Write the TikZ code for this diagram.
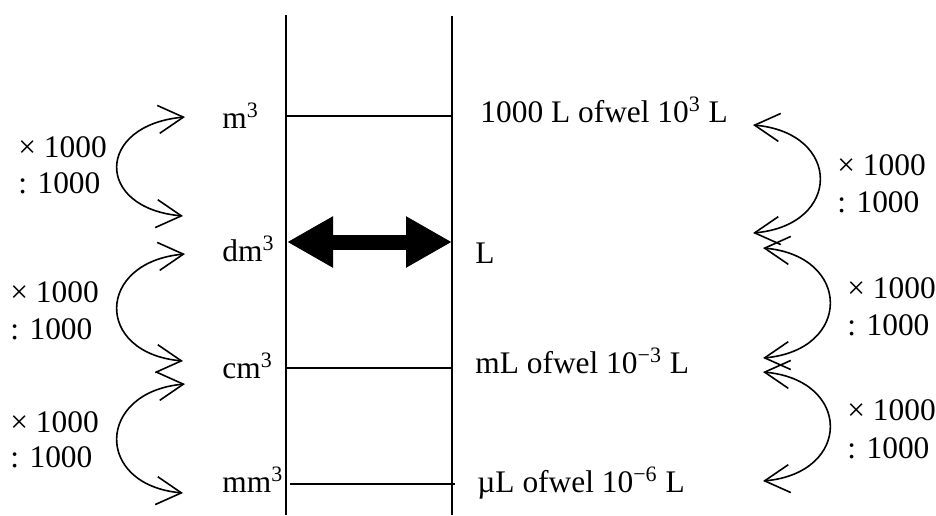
\documentclass[tikz,border=0pt]{standalone}
\usepackage{fontspec}
\setmainfont{Liberation Serif}
\usetikzlibrary{arrows.meta}
\tikzset{
  lbl/.style={anchor=base west, inner sep=0pt, font=\fontsize{15.7}{18}\selectfont},
  wall/.style={line width=1pt},
  rung/.style={line width=0.8pt},
  conv/.style={line width=0.8pt, {Straight Barb[length=12.5pt, width=14pt]}-{Straight Barb[length=12.5pt, width=14pt]}},
  equal/.style={line width=7.5pt, {Triangle[length=23pt, width=24pt]}-{Triangle[length=23pt, width=24pt]}}
}
\begin{document}
\begin{tikzpicture}[x=0.5pt, y=-0.5pt]
\useasboundingbox (0,0) rectangle (936,515);
\coordinate (wl top) at (286,15);
\coordinate (wl bot) at (286,515);
\coordinate (wr top) at (452,16);
\coordinate (wr bot) at (452,515);
\draw[wall] (wl top) -- (wl bot);
\draw[wall] (wr top) -- (wr bot);
\coordinate (r1l) at (286,116);
\coordinate (r1r) at (452,116);
\coordinate (r3l) at (286,368);
\coordinate (r3r) at (452,368);
\coordinate (r4l) at (290,484);
\coordinate (r4r) at (455,484);
\draw[rung] (r1l) -- (r1r);
\draw[rung] (r3l) -- (r3r);
\draw[rung] (r4l) -- (r4r);
\coordinate (eql) at (287,242);
\coordinate (eqr) at (452,242);
\draw[equal] (eql) -- (eqr);
\node[lbl] (m3) at (222,128) {m\textsuperscript{3}};
\node[lbl] (dm3) at (222,261) {dm\textsuperscript{3}};
\node[lbl] (cm3) at (222,378) {cm\textsuperscript{3}};
\node[lbl] (mm3) at (222,492) {mm\textsuperscript{3}};
\node[lbl] (kl) at (480,122) {1000 L ofwel 10\textsuperscript{3} L};
\node[lbl] (l) at (475,263) {L};
\node[lbl] (ml) at (475,373) {mL ofwel 10\textsuperscript{−3} L};
\node[lbl] (ul) at (477,492) {µL ofwel 10\textsuperscript{−6} L};
\node[lbl] (lx1) at (18,157) {× 1000};
\node[lbl] (ld1) at (18,193) {: 1000};
\node[lbl] (lx2) at (10,302) {× 1000};
\node[lbl] (ld2) at (10,339) {: 1000};
\node[lbl] (lx3) at (10,432) {× 1000};
\node[lbl] (ld3) at (10,467) {: 1000};
\node[lbl] (rx1) at (837,175) {× 1000};
\node[lbl] (rd1) at (837,212) {: 1000};
\node[lbl] (rx2) at (847,298) {× 1000};
\node[lbl] (rd2) at (847,335) {: 1000};
\node[lbl] (rx3) at (847,420) {× 1000};
\node[lbl] (rd3) at (847,458) {: 1000};
\coordinate (la1) at (185,117);
\coordinate (lb1) at (183,216);
\coordinate (la2) at (185,254);
\coordinate (lb2) at (183,361);
\coordinate (la3) at (185,384);
\coordinate (lb3) at (183,493);
\draw[conv] (la1) .. controls +(-89,8) and +(-89,-8) .. (lb1);
\draw[conv] (la2) .. controls +(-89,8) and +(-89,-8) .. (lb2);
\draw[conv] (la3) .. controls +(-89,8) and +(-89,-8) .. (lb3);
\coordinate (ra1) at (753,125);
\coordinate (rb1) at (753,233);
\coordinate (ra2) at (763,248);
\coordinate (rb2) at (763,358);
\coordinate (ra3) at (763,372);
\coordinate (rb3) at (763,481);
\draw[conv] (ra1) .. controls +(89,8) and +(89,-8) .. (rb1);
\draw[conv] (ra2) .. controls +(89,8) and +(89,-8) .. (rb2);
\draw[conv] (ra3) .. controls +(89,8) and +(89,-8) .. (rb3);
\end{tikzpicture}
\end{document}
